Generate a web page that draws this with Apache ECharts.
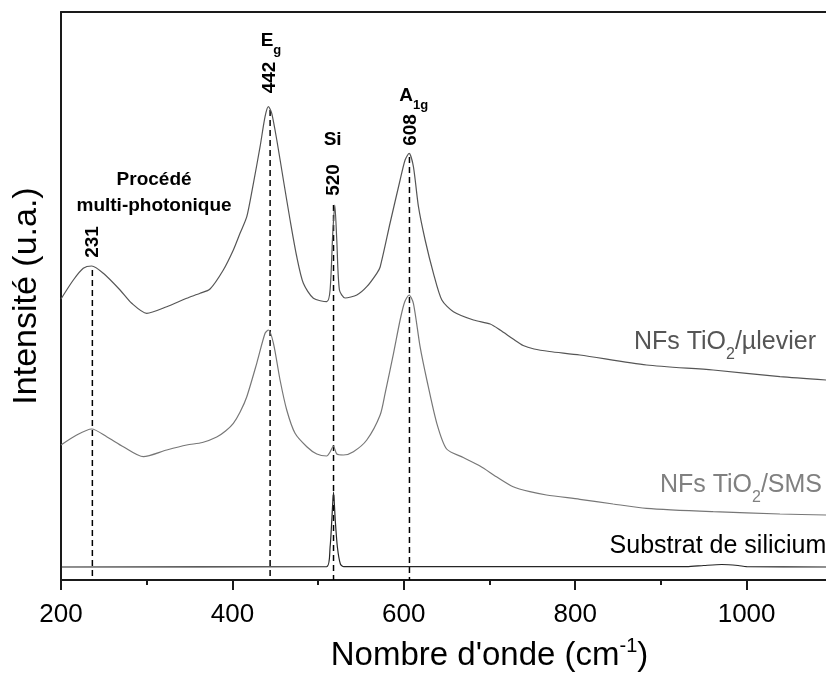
<!DOCTYPE html>
<html><head><meta charset="utf-8">
<script src="https://cdn.jsdelivr.net/npm/echarts@6/dist/echarts.min.js"></script>
<style>html,body{margin:0;padding:0;background:#fff}#c{width:826px;height:673px}</style>
</head><body><div id="c"></div>
<script>
const FONT = '"Liberation Sans", Arial, Helvetica, sans-serif';

// Raman shift (cm-1) and intensity (a.u., stacked)
const levierX = [200,214.4,226,235.8,249.4,268.9,282.5,300,323.4,346.7,362.3,373.9,389.4,401.1,408.9,416.8,424.5,432.3,438.1,442,445.9,451.8,459.5,467.3,475.1,482.8,494.5,510.1,514,517.1,519.5,521.8,524.9,531.5,545.2,556.8,568.5,572.4,584,595.7,601.5,606.2,611.2,617.1,624.9,634.6,644.4,657.9,681.3,700.8,712.4,727.6,739.3,752,770,805.4,883.2,961,1038.9,1093];
const levierY = [281,300,311.7,314,306.7,290,276.7,266.7,273.3,281.7,286.7,291,310,330,346.7,363.3,396.7,433.3,463.3,473.3,466.7,440,400,360,323.3,296.7,281.7,278.3,290,346.7,375,340,290,282,285,293.3,306.7,313,357,400,420,426.7,413.3,373.3,340,306.7,280,268.3,260,256,250,241,234.5,231,228.5,225,215,210,203.3,200];

const smsX = [200,218.3,235.8,253.3,272.7,296.1,323.4,346.7,365,381.7,392,401.1,409,416.8,428.4,438.1,442,447.9,455.6,463.4,473.1,486.8,498.5,510,514,517.9,521.8,529.6,541.2,556.8,572.4,578.2,588,595.7,601,606.2,611.2,619,626.9,638.5,650,669.4,688.9,708.1,727.6,747.1,766.5,805.4,844.3,883.2,961,1038.9,1093];
const smsY = [135,145,151,143.3,133.3,123.3,130,135,137.5,143,149,156.7,168,183.3,216.7,246.7,250,236.7,200,170,146.7,133.3,126,124,128,134,126,125,128.3,140,165,186.7,226.7,260,278,285,276.7,233.3,200,156.7,131,122.5,114,103.3,93.3,88.3,85,80.7,76,71.7,68.3,66,65];

const siX = [200,510,514,516,518,520,522.5,526,530,930,950,971,990,1000,1093];
const siY = [13,13.3,33,60,88,60,33,16,13.3,13.3,14.5,15.5,14.5,13.3,13];

// peak markers
const peakLabels = ['231', '442', '520', '608'];
const peakLineX = [236.6, 444, 518, 606.6];
const peakLineTop = [310, 470, 375, 423];

// mode names
const modeLabels = ['{b|E}{s|g}', '{b|Si}', '{b|A}{s|1g}'];
const processLabel = 'Procédé\nmulti-photonique';

// series names
const seriesNames = ['{m|NFs TiO}{s|2}{m|/µlevier}', '{m|NFs TiO}{s|2}{m|/SMS}', '{m|Substrat de silicium}'];

// axis
const xMin = 200, xMax = 1200, xInterval = 200;
const yMin = 0, yMax = 568;

// ---- layout (positions in data coordinates) ----
const peakLabelPos = [[236.7, 338], [443.4, 502.5], [518, 400], [608.5, 450]];
const modeLabelPos = [[445, 536], [517, 440], [611.5, 481]];
const processPos = [308.6, 387];
const seriesNamePos = [[1081, 234], [1088, 91], [1093, 34]];
const seriesColors = ['#555555', '#777777', '#262626'];
const nameColors = ['#555555', '#808080', '#000000'];

function zip(xs, ys) { return xs.map((x, i) => [x, ys[i]]); }

const noBorder = { textBorderWidth: 0, textBorderColor: 'transparent', textShadowBlur: 0, opacity: 1 };
const boldRich = {
  b: Object.assign({ fontFamily: FONT, fontWeight: 'bold', fontSize: 19, lineHeight: 19, verticalAlign: 'top', color: '#000' }, noBorder),
  s: Object.assign({ fontFamily: FONT, fontWeight: 'bold', fontSize: 13, lineHeight: 25, verticalAlign: 'bottom', color: '#000' }, noBorder)
};

const series = [];
// dashed peak lines
peakLineX.forEach((x, i) => {
  series.push({
    type: 'line', data: [[x, peakLineTop[i]], [x, yMin]], symbol: 'none', silent: true,
    lineStyle: { color: '#000', width: 1.5, type: [6, 4] }, z: 1
  });
});
// spectra
[[levierX, levierY], [smsX, smsY], [siX, siY]].forEach((d, i) => {
  series.push({
    type: 'line', data: zip(d[0], d[1]), symbol: 'none', silent: true, smooth: 0.25,
    lineStyle: { color: seriesColors[i], width: 1.2 }, z: 3
  });
});
const labelSeriesBase = { type: 'scatter', symbolSize: 0, silent: true, z: 5, itemStyle: { opacity: 1 } };
// peak number labels (rotated)
series.push(Object.assign({}, labelSeriesBase, {
  data: peakLabels.map((t, i) => ({
    value: peakLabelPos[i],
    label: Object.assign({ show: true, position: 'inside', rotate: 90, formatter: t, align: 'center', verticalAlign: 'middle',
      fontFamily: FONT, fontWeight: 'bold', fontSize: 19, color: '#000' }, noBorder)
  }))
}));
// mode labels
series.push(Object.assign({}, labelSeriesBase, {
  data: modeLabels.map((t, i) => ({
    value: modeLabelPos[i],
    label: Object.assign({ show: true, position: 'inside', formatter: t, align: 'center', verticalAlign: 'middle', rich: boldRich }, noBorder)
  })).concat([{
    value: processPos,
    label: Object.assign({ show: true, position: 'inside', formatter: processLabel, align: 'center', verticalAlign: 'middle',
      fontFamily: FONT, fontWeight: 'bold', fontSize: 19, lineHeight: 26, color: '#000' }, noBorder)
  }])
}));
// series names
series.push(Object.assign({}, labelSeriesBase, {
  data: seriesNames.map((t, i) => ({
    value: seriesNamePos[i],
    label: Object.assign({ show: true, position: 'inside', formatter: t, align: 'right', verticalAlign: 'middle',
      rich: {
        m: Object.assign({ fontFamily: FONT, fontSize: 25, lineHeight: 25, verticalAlign: 'top', color: nameColors[i] }, noBorder),
        s: Object.assign({ fontFamily: FONT, fontSize: 16, lineHeight: 33, verticalAlign: 'bottom', color: nameColors[i] }, noBorder)
      } }, noBorder)
  }))
}));

const chart = echarts.init(document.getElementById('c'), null, { renderer: 'canvas' });
chart.setOption({
  animation: false,
  backgroundColor: '#fff',
  grid: { left: 61, right: -92, top: 12, bottom: 93, containLabel: false, outerBoundsMode: 'none' },
  xAxis: [{
    type: 'value', min: xMin, max: xMax, interval: xInterval, position: 'bottom',
    axisLine: { show: true, onZero: false, lineStyle: { color: '#1a1a1a', width: 2 } },
    axisTick: { show: true, inside: false, length: 10, lineStyle: { color: '#1a1a1a', width: 2 } },
    minorTick: { show: true, splitNumber: 2, length: 5, lineStyle: { color: '#1a1a1a', width: 2 } },
    axisLabel: { show: true, margin: 22, fontFamily: FONT, fontSize: 26, color: '#000', showMaxLabel: false,
      formatter: function (v) { return String(v); } },
    splitLine: { show: false }, minorSplitLine: { show: false },
    name: '{m|Nombre d\'onde (cm}{p|-1}{m|)}', nameLocation: 'middle', nameGap: 56,
    nameTextStyle: {
      rich: {
        m: { fontFamily: FONT, fontSize: 33, lineHeight: 36, verticalAlign: 'bottom', color: '#000' },
        p: { fontFamily: FONT, fontSize: 20, lineHeight: 20, verticalAlign: 'top', color: '#000' }
      }
    }
  }, {
    type: 'value', min: xMin, max: xMax, position: 'top',
    axisLine: { show: true, onZero: false, lineStyle: { color: '#1a1a1a', width: 2 } },
    axisTick: { show: false }, axisLabel: { show: false }, splitLine: { show: false }
  }],
  yAxis: {
    type: 'value', min: yMin, max: yMax,
    axisLine: { show: true, onZero: false, lineStyle: { color: '#1a1a1a', width: 2 } },
    axisTick: { show: false }, axisLabel: { show: false }, splitLine: { show: false },
    name: 'Intensité (u.a.)', nameLocation: 'middle', nameGap: 17,
    nameTextStyle: { fontFamily: FONT, fontSize: 34, color: '#000' }
  },
  series: series
});
</script></body></html>
